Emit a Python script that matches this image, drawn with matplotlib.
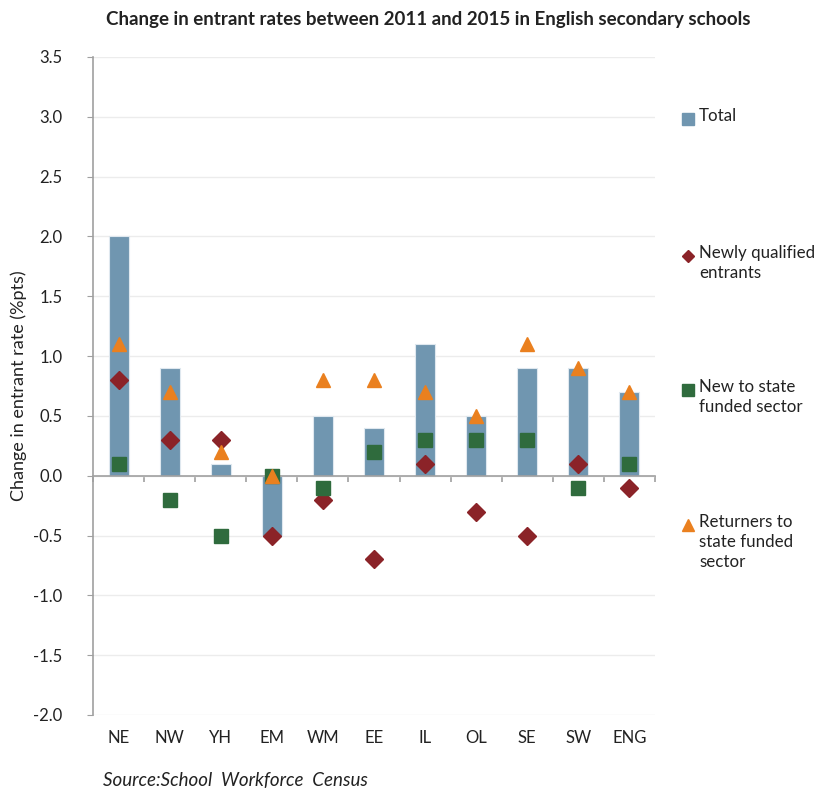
import matplotlib
matplotlib.use("Agg")
import matplotlib.pyplot as plt
from matplotlib.lines import Line2D
import numpy as np

plt.rcParams['font.family'] = ['Lato', 'DejaVu Sans']

# values (%pts change, 2011 -> 2015)
regions = ["NE", "NW", "YH", "EM", "WM", "EE", "IL", "OL", "SE", "SW", "ENG"]
total = [2.0, 0.9, 0.1, -0.5, 0.5, 0.4, 1.1, 0.5, 0.9, 0.9, 0.7]
newly_qualified = [0.8, 0.3, 0.3, -0.5, -0.2, -0.7, 0.1, -0.3, -0.5, 0.1, -0.1]
new_to_state = [0.1, -0.2, -0.5, 0.0, -0.1, 0.2, 0.3, 0.3, 0.3, -0.1, 0.1]
returners = [1.1, 0.7, 0.2, 0.0, 0.8, 0.8, 0.7, 0.5, 1.1, 0.9, 0.7]

bar_col = "#7096b0"
nq_col = "#8b2328"
new_col = "#2f6b3d"
ret_col = "#ea801f"
axis_col = "#a0a0a0"
text_col = "#222222"

fig = plt.figure(figsize=(8.18, 7.89), dpi=100)
ax = fig.add_axes([0.1137, 0.0938, 0.687, 0.834])

x = np.arange(len(regions))
ax.bar(x, total, width=0.39, color=bar_col, edgecolor="#dfe8ef",
       linewidth=0.8, zorder=2)
ax.plot(x, newly_qualified, linestyle="none", marker="D", markersize=9,
        color=nq_col, zorder=3)
ax.plot(x, new_to_state, linestyle="none", marker="s", markersize=9.5,
        color=new_col, zorder=4)
ax.plot(x, returners, linestyle="none", marker="^", markersize=10.5,
        color=ret_col, zorder=5)

ax.set_xlim(-0.5, len(regions) - 0.5)
ax.set_ylim(-2.0, 3.5)
yt = np.arange(-2.0, 3.51, 0.5)
ax.set_yticks(yt)
ax.set_yticklabels([f"{v:.1f}" for v in yt], fontsize=12, color=text_col)
ax.yaxis.grid(True, color="#ececec", linewidth=1, zorder=0)
ax.set_axisbelow(True)

for side in ["top", "right"]:
    ax.spines[side].set_visible(False)
ax.spines["left"].set_color(axis_col)
ax.spines["left"].set_linewidth(1.2)
ax.spines["bottom"].set_position(("data", 0))
ax.spines["bottom"].set_color(axis_col)
ax.spines["bottom"].set_linewidth(1.2)
ax.tick_params(axis="y", length=4, color=axis_col, pad=18)

# tick marks between categories on the zero line, labels at the bottom
ax.set_xticks(x)
ax.set_xticklabels([])
ax.tick_params(axis="x", which="major", length=0)
ax.set_xticks(np.arange(-0.5, len(regions)), minor=True)
ax.tick_params(axis="x", which="minor", length=4, color=axis_col, width=1.2)

sec = ax.secondary_xaxis(0)
sec.set_xticks(x)
sec.set_xticklabels(regions, fontsize=12, color=text_col)
sec.tick_params(length=0, pad=11)
sec.spines["bottom"].set_visible(False)

ax.set_ylabel("Change in entrant rate (%pts)", fontsize=13, color=text_col)
ax.yaxis.set_label_coords(-0.118, 0.5)

fig.text(0.523, 0.975, "Change in entrant rates between 2011 and 2015 in English secondary schools",
         ha="center", va="center", fontsize=13.5, fontweight="bold", color=text_col)
fig.text(0.126, 1 - 781 / 789, "Source:School  Workforce  Census", ha="left", va="center",
         fontsize=13.5, style="italic", color=text_col)

# legend entries placed like the original (marker beside the first line)
legend_items = [
    ("Total", "s", bar_col, 8, 119),
    ("Newly qualified\nentrants", "D", nq_col, 6, 256),
    ("New to state\nfunded sector", "s", new_col, 8, 390),
    ("Returners to\nstate funded\nsector", "^", ret_col, 8, 525),
]
W, H = 818, 789
for label, mk, col, ms, ypix in legend_items:
    fig.add_artist(Line2D([688 / W], [1 - ypix / H], marker=mk, markersize=ms,
                          color=col, linestyle="none", transform=fig.transFigure))
    fig.text(699 / W, 1 - (ypix - 11) / H, label, ha="left", va="top",
             fontsize=12.2, color=text_col, linespacing=1.3)

fig.savefig("out.png", dpi=100)
